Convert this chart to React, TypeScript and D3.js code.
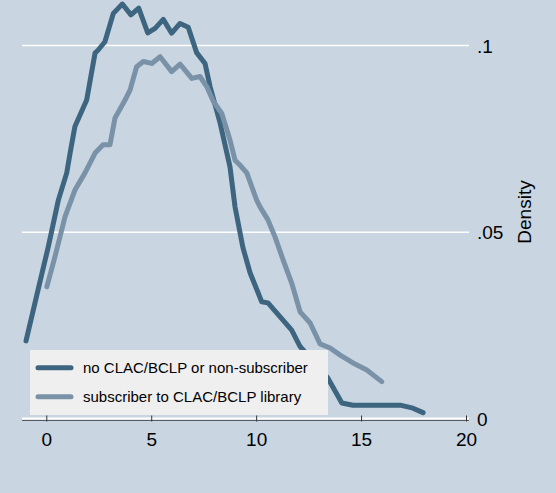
import React from "react";
import * as d3 from "d3";

const W = 556;
const H = 493;

const seriesNames = ["no CLAC/BCLP or non-subscriber", "subscriber to CLAC/BCLP library"];

const nonSubX = [-0.99, -0.42, 0.07, 0.55, 0.95, 1.11, 1.34, 1.9, 2.3, 2.45, 2.77, 3.17, 3.6, 4.01, 4.38, 4.81, 5.16, 5.55, 5.95, 6.35, 6.74, 7.14, 7.54, 7.78, 8.26, 8.73, 8.97, 9.35, 9.69, 10.24, 10.54, 11.11, 11.67, 12.07, 12.7, 13.39, 14.06, 14.59, 15.72, 16.84, 17.45, 17.93];
const nonSubY = [0.0209, 0.0345, 0.0461, 0.0586, 0.0659, 0.0712, 0.0783, 0.0854, 0.098, 0.0988, 0.101, 0.1086, 0.1111, 0.1082, 0.11, 0.1034, 0.1046, 0.107, 0.1033, 0.1059, 0.1049, 0.0981, 0.0952, 0.089, 0.0792, 0.0675, 0.0568, 0.0458, 0.0391, 0.0314, 0.0311, 0.0274, 0.0238, 0.0194, 0.0155, 0.011, 0.0043, 0.0037, 0.0037, 0.0037, 0.0029, 0.0017];

const subX = [0.0, 0.39, 0.87, 1.34, 1.82, 2.3, 2.68, 3.01, 3.25, 3.73, 3.97, 4.28, 4.6, 5.0, 5.4, 5.95, 6.35, 6.91, 7.3, 7.62, 7.94, 8.34, 8.73, 8.97, 9.2, 9.53, 10.0, 10.16, 10.54, 10.88, 11.26, 11.67, 12.07, 12.55, 13.02, 13.5, 13.98, 14.59, 15.25, 15.96];
const subY = [0.0354, 0.0435, 0.0542, 0.0613, 0.0659, 0.0712, 0.0734, 0.0734, 0.0806, 0.0854, 0.0881, 0.0943, 0.0957, 0.0952, 0.097, 0.093, 0.095, 0.0912, 0.0917, 0.089, 0.085, 0.0818, 0.0747, 0.0693, 0.068, 0.0659, 0.0586, 0.0568, 0.0533, 0.0487, 0.0426, 0.0364, 0.0287, 0.0257, 0.0201, 0.019, 0.0171, 0.015, 0.0131, 0.01];

const xTicks = [0, 5, 10, 15, 20];
const yTicks = [0, 0.05, 0.1];
const yTickLabels = ["0", ".05", ".1"];
const yTitle = "Density";

const BG = "#c9d5e0";
const DARK = "#3d6580";
const LIGHT = "#7a92a8";
const FONT = "Liberation Sans, Arial, Helvetica, sans-serif";

export default function App() {
  const x = d3.scaleLinear().domain([0, 20]).range([46.8, 466.5]);
  const y = d3.scaleLinear().domain([0, 0.1]).range([419, 45.5]);
  const line = d3
    .line<[number, number]>()
    .x((d) => x(d[0]))
    .y((d) => y(d[1]));
  const dark: [number, number][] = nonSubX.map((v, i) => [v, nonSubY[i]]);
  const light: [number, number][] = subX.map((v, i) => [v, subY[i]]);
  const gridX0 = 22;
  const gridX1 = 469;
  const colors = [DARK, LIGHT];

  return (
    <svg width={W} height={H} style={{ position: "absolute", left: 0, top: 0 }} fontFamily={FONT}>
      <rect x={0} y={0} width={W} height={H} fill={BG} />
      {yTicks
        .filter((t) => t > 0)
        .map((t) => (
          <line key={t} x1={gridX0} x2={gridX1} y1={y(t)} y2={y(t)} stroke="#ffffff" strokeWidth={1.6} />
        ))}
      <line x1={gridX0} x2={gridX1} y1={y(0) - 0.5} y2={y(0) - 0.5} stroke="#ffffff" strokeWidth={2} />
      <line x1={gridX0} x2={gridX1} y1={y(0) + 1.5} y2={y(0) + 1.5} stroke="#555a60" strokeWidth={1.2} />
      {xTicks.map((t) => (
        <g key={t}>
          <line x1={x(t)} x2={x(t)} y1={y(0) - 3.5} y2={y(0) + 2.5} stroke="#333" strokeWidth={1} />
          <text x={x(t)} y={446} textAnchor="middle" fontSize={19} fill="#000">
            {t}
          </text>
        </g>
      ))}
      {yTicks.map((t, i) => (
        <text key={t} x={477} y={y(t) + 7} textAnchor="start" fontSize={19} fill="#000">
          {yTickLabels[i]}
        </text>
      ))}
      <text
        transform={`translate(531,212) rotate(-90)`}
        textAnchor="middle"
        fontSize={19}
        fill="#000"
      >
        {yTitle}
      </text>
      <path d={line(dark) || ""} fill="none" stroke={DARK} strokeWidth={5} strokeLinejoin="round" strokeLinecap="round" />
      <path d={line(light) || ""} fill="none" stroke={LIGHT} strokeWidth={5} strokeLinejoin="round" strokeLinecap="round" />
      <rect x={30} y={350} width={298} height={65} fill="#efefef" />
      {seriesNames.map((name, i) => {
        const ly = 367.7 + i * 29;
        return (
          <g key={name}>
            <line x1={38} x2={71} y1={ly} y2={ly} stroke={colors[i]} strokeWidth={5} strokeLinecap="round" />
            <text x={83} y={ly + 5} fontSize={15} fill="#000">
              {name}
            </text>
          </g>
        );
      })}
    </svg>
  );
}
